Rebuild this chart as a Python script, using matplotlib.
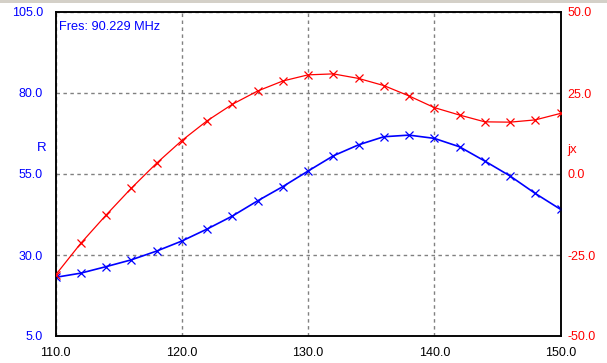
import matplotlib
matplotlib.use("Agg")
import matplotlib.pyplot as plt
from matplotlib.patches import Rectangle

freq = [110, 112, 114, 116, 118, 120, 122, 124, 126, 128, 130,
        132, 134, 136, 138, 140, 142, 144, 146, 148, 150]
r_vals = [23.1, 24.4, 26.4, 28.5, 31.2, 34.3, 38.0, 42.0, 46.7, 51.1, 55.9,
          60.6, 64.0, 66.5, 67.0, 66.0, 63.4, 59.0, 54.4, 49.0, 44.1]
jx_vals = [-31.2, -21.4, -12.7, -4.4, 3.3, 10.3, 16.4, 21.5, 25.6, 28.7, 30.6,
           30.9, 29.5, 27.3, 24.1, 20.5, 18.2, 16.1, 16.0, 16.7, 18.7]
x_ticks = [110, 120, 130, 140, 150]
r_ticks = [5, 30, 55, 80, 105]
jx_ticks = [-50, -25, 0, 25, 50]
annotation = "Fres: 90.229 MHz"

plt.rcParams['font.family'] = ['Liberation Sans', 'DejaVu Sans']
W, H = 607, 363
fig = plt.figure(figsize=(W / 100, H / 100), dpi=100)
fig.patch.set_facecolor('white')
fig.patches.append(Rectangle((0, 1 - 3 / H), 1, 3 / H, transform=fig.transFigure,
                             facecolor='#d4d0c8', edgecolor='none'))

left, right, top, bottom = 55.5, 560.5, 12, 336
ax = fig.add_axes([left / W, (H - bottom) / H, (right - left) / W, (bottom - top) / H])
ax2 = ax.twinx()

ax.set_xlim(110, 150)
ax.set_ylim(5, 105)
ax2.set_ylim(-50, 50)

ax.set_xticks(x_ticks)
ax.set_xticklabels([f"{v:.1f}" for v in x_ticks])
ax.set_yticks(r_ticks)
ax.set_yticklabels([f"{v:.1f}" for v in r_ticks])
ax2.set_yticks(jx_ticks)
ax2.set_yticklabels([f"{v:.1f}" for v in jx_ticks])

ax.tick_params(axis='x', length=0, pad=8, labelsize=9, labelcolor='black')
ax.tick_params(axis='y', length=0, pad=9, labelsize=9, labelcolor='#0000ff')
ax2.tick_params(axis='y', length=0, pad=5, labelsize=9, labelcolor='#ff0000')

ax.grid(True, color='#808080', linestyle=(0, (2.5, 2.5)), linewidth=1)
ax.set_axisbelow(True)
for a in (ax, ax2):
    for s in a.spines.values():
        s.set_color('black')
        s.set_linewidth(1.1)

ax.plot(freq, r_vals, color='#0000ff', lw=1.2, marker='x', ms=6, mew=0.9, zorder=3)
ax2.plot(freq, jx_vals, color='#ff0000', lw=0.9, marker='x', ms=6, mew=0.9, zorder=3)

ax.text(0.006, 0.953, annotation, transform=ax.transAxes, color='#0000ff',
        fontsize=9.2, ha='left', va='center')

fig.text(42 / W, 1 - 148 / H, "R", color='#0000ff', fontsize=9.5, ha='center', va='center')
fig.text(572 / W, 1 - 150 / H, "jx", color='#ff0000', fontsize=9.5, ha='center', va='center')

fig.savefig("out.png", dpi=100)
